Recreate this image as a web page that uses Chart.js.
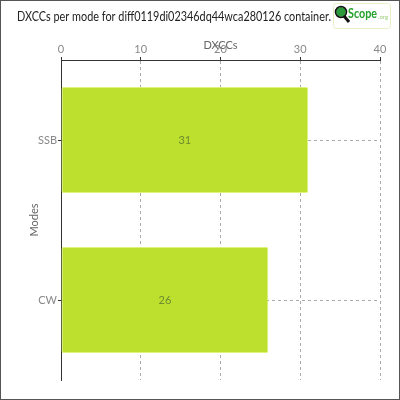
<!DOCTYPE html>
<html>
<head>
<meta charset="utf-8">
<script src="https://cdn.jsdelivr.net/npm/chart.js@4/dist/chart.umd.min.js"></script>
<style>
  html, body { margin: 0; padding: 0; background: #fff; }
  #wrap { width: 400px; height: 400px; box-sizing: border-box; border: 1px solid #555; position: relative; }
  #wrap canvas { display: block; }
</style>
</head>
<body>
<div id="wrap"><canvas id="dxccChart" width="398" height="398"></canvas></div>
<script>
const modes = ['SSB', 'CW'];
const dxccCounts = [31, 26];
const xTicks = [0, 10, 20, 30, 40];

const chartTitle = 'DXCCs per mode for diff0119di02346dq44wca280126 container.';
const fontFamily = 'Lato, "DejaVu Sans", sans-serif';

// value labels in the middle of each bar
const barValues = {
  id: 'barValues',
  afterDatasetsDraw(chart) {
    const ctx = chart.ctx;
    const meta = chart.getDatasetMeta(0);
    ctx.save();
    ctx.font = '11px ' + fontFamily;
    ctx.fillStyle = '#6c8a32';
    ctx.textAlign = 'center';
    ctx.textBaseline = 'middle';
    meta.data.forEach((bar, i) => {
      const x = (bar.base + bar.x) / 2;
      ctx.fillText(String(chart.data.datasets[0].data[i]), x, bar.y);
    });
    ctx.restore();
  }
};

// title is drawn narrow (condensed font in the original) plus the QScope logo
const header = {
  id: 'header',
  afterDraw(chart) {
    const ctx = chart.ctx;
    ctx.save();
    ctx.fillStyle = '#222';
    ctx.font = '13px ' + fontFamily;
    ctx.textBaseline = 'middle';
    ctx.textAlign = 'left';
    ctx.fillText(chartTitle, 16, 16, 314);

    ctx.strokeStyle = '#e6efc4';
    ctx.lineWidth = 1;
    ctx.beginPath();
    ctx.roundRect(332.5, 2.5, 57, 25, 3);
    ctx.stroke();
    // magnifier
    ctx.strokeStyle = '#111';
    ctx.lineWidth = 3;
    ctx.beginPath();
    ctx.moveTo(343, 15);
    ctx.lineTo(348, 21);
    ctx.stroke();
    ctx.fillStyle = '#2a9a3a';
    ctx.beginPath();
    ctx.arc(340, 11, 5, 0, Math.PI * 2);
    ctx.fill();
    ctx.lineWidth = 1.5;
    ctx.beginPath();
    ctx.arc(340, 11, 5.5, 0, Math.PI * 2);
    ctx.stroke();
    ctx.fillStyle = '#22a02a';
    ctx.font = 'bold 13px ' + fontFamily;
    ctx.textBaseline = 'alphabetic';
    ctx.fillText('Scope', 347, 17, 29);
    ctx.fillStyle = '#9ccc7a';
    ctx.font = '6px ' + fontFamily;
    ctx.fillText('.org', 377, 18);
    ctx.restore();
  }
};

new Chart(document.getElementById('dxccChart'), {
  type: 'bar',
  data: {
    labels: modes,
    datasets: [{
      label: 'DXCCs',
      data: dxccCounts,
      backgroundColor: '#bde02e',
      borderColor: '#dff27a',
      borderWidth: 1,
      borderRadius: 2,
      borderSkipped: false,
      barPercentage: 0.83,
      categoryPercentage: 0.8
    }]
  },
  options: {
    indexAxis: 'y',
    responsive: false,
    animation: false,
    layout: {
      padding: { left: 16, right: 19, top: 25.6, bottom: 19 }
    },
    plugins: {
      legend: { display: false },
      tooltip: { enabled: false },
      title: { display: false }
    },
    scales: {
      x: {
        position: 'top',
        min: 0,
        max: 40,
        afterBuildTicks(scale) {
          scale.ticks = xTicks.map(v => ({ value: v }));
        },
        afterFit(scale) { scale.height = 33.4; },
        title: {
          display: true,
          text: 'DXCCs',
          color: '#666',
          font: { family: fontFamily, size: 11 },
          padding: { top: 12, bottom: 0 }
        },
        ticks: {
          color: '#888',
          font: { family: fontFamily, size: 11 },
          padding: 1
        },
        grid: {
          color: '#aaa',
          tickColor: '#333',
          tickLength: 3,
          tickBorderDash: []
        },
        border: { display: true, color: '#333', width: 1, dash: [3, 3] }
      },
      y: {
        afterFit(scale) { scale.width = 44; },
        title: {
          display: true,
          text: 'Modes',
          color: '#666',
          font: { family: fontFamily, size: 11 },
          padding: { top: 11, bottom: 0 }
        },
        ticks: {
          color: '#888',
          font: { family: fontFamily, size: 11 },
          padding: 1
        },
        grid: {
          offset: false,
          color: '#aaa',
          tickColor: '#333',
          tickLength: 3,
          tickBorderDash: []
        },
        border: { display: true, color: '#333', width: 1, dash: [3, 3] }
      }
    }
  },
  plugins: [barValues, header]
});
</script>
</body>
</html>
